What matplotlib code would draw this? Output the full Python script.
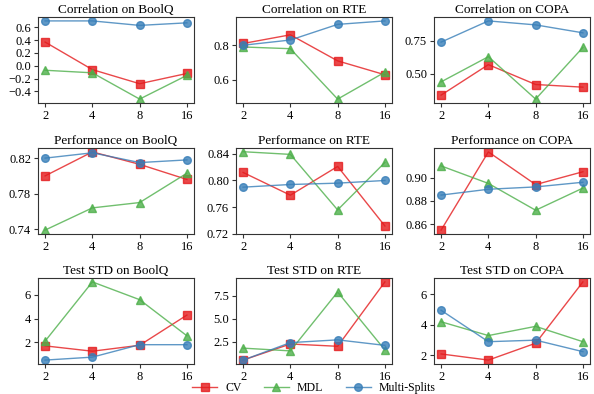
import matplotlib
matplotlib.use("Agg")
import matplotlib.pyplot as plt
import numpy as np

plt.rcParams['font.family'] = ['Liberation Serif', 'DejaVu Serif']

shots = ["2", "4", "8", "16"]
methods = ["CV", "MDL", "Multi-Splits"]
colors = ["#e41a1c", "#4daf4a", "#377eb8"]
markers = ["s", "^", "o"]

titles = [
    "Correlation on BoolQ", "Correlation on RTE", "Correlation on COPA",
    "Performance on BoolQ", "Performance on RTE", "Performance on COPA",
    "Test STD on BoolQ", "Test STD on RTE", "Test STD on COPA",
]

corr_boolq_cv = [0.37, -0.06, -0.28, -0.12]
corr_boolq_mdl = [-0.07, -0.11, -0.52, -0.15]
corr_boolq_ms = [0.70, 0.70, 0.63, 0.67]

corr_rte_cv = [0.81, 0.86, 0.71, 0.63]
corr_rte_mdl = [0.79, 0.78, 0.49, 0.645]
corr_rte_ms = [0.80, 0.83, 0.92, 0.94]

corr_copa_cv = [0.34, 0.57, 0.42, 0.40]
corr_copa_mdl = [0.44, 0.63, 0.31, 0.70]
corr_copa_ms = [0.74, 0.90, 0.87, 0.81]

perf_boolq_cv = [0.800, 0.827, 0.813, 0.796]
perf_boolq_mdl = [0.739, 0.764, 0.770, 0.803]
perf_boolq_ms = [0.820, 0.826, 0.815, 0.818]

perf_rte_cv = [0.812, 0.778, 0.821, 0.732]
perf_rte_mdl = [0.843, 0.839, 0.756, 0.827]
perf_rte_ms = [0.790, 0.794, 0.796, 0.800]

perf_copa_cv = [0.855, 0.922, 0.894, 0.905]
perf_copa_mdl = [0.910, 0.895, 0.872, 0.891]
perf_copa_ms = [0.885, 0.890, 0.892, 0.896]

std_boolq_cv = [1.7, 1.25, 1.75, 4.3]
std_boolq_mdl = [2.1, 7.1, 5.6, 2.55]
std_boolq_ms = [0.5, 0.75, 1.8, 1.8]

std_rte_cv = [0.5, 2.25, 2.0, 9.0]
std_rte_mdl = [1.8, 1.5, 7.9, 1.6]
std_rte_ms = [0.5, 2.4, 2.7, 2.1]

std_copa_cv = [2.1, 1.7, 2.8, 6.8]
std_copa_mdl = [4.2, 3.3, 3.9, 2.9]
std_copa_ms = [4.95, 2.9, 3.0, 2.25]

panels = [
    (corr_boolq_cv, corr_boolq_mdl, corr_boolq_ms),
    (corr_rte_cv, corr_rte_mdl, corr_rte_ms),
    (corr_copa_cv, corr_copa_mdl, corr_copa_ms),
    (perf_boolq_cv, perf_boolq_mdl, perf_boolq_ms),
    (perf_rte_cv, perf_rte_mdl, perf_rte_ms),
    (perf_copa_cv, perf_copa_mdl, perf_copa_ms),
    (std_boolq_cv, std_boolq_mdl, std_boolq_ms),
    (std_rte_cv, std_rte_mdl, std_rte_ms),
    (std_copa_cv, std_copa_mdl, std_copa_ms),
]

yticks = [
    [-0.4, -0.2, 0.0, 0.2, 0.4, 0.6], [0.6, 0.8], [0.50, 0.75],
    [0.74, 0.78, 0.82], [0.72, 0.76, 0.80, 0.84], [0.86, 0.88, 0.90],
    [2, 4, 6], [2.5, 5.0, 7.5], [2, 4, 6],
]
yfmt = ["%.1f", "%.1f", "%.2f", "%.2f", "%.2f", "%.2f", "%d", "%.1f", "%d"]

W, H = 594, 394
fig = plt.figure(figsize=(W / 100, H / 100), dpi=100)
lefts = [38, 236, 434]
tops = [17, 148, 278]
aw, ah = 156, 86

x = np.arange(len(shots))
handles = []
for i in range(9):
    r, c = divmod(i, 3)
    ax = fig.add_axes([lefts[c] / W, 1 - (tops[r] + ah) / H, aw / W, ah / H])
    for j, series in enumerate(panels[i]):
        h, = ax.plot(x, series, color=colors[j], marker=markers[j], markersize=5.5,
                     linewidth=1, alpha=0.8, label=methods[j])
        if i == 0:
            handles.append(h)
    ax.set_title(titles[i], fontsize=9.5, pad=3)
    ax.set_xticks(x)
    ax.set_xticklabels(shots)
    ax.set_yticks(yticks[i])
    ax.set_yticklabels([(yfmt[i] % v).replace("-", "\u2212") for v in yticks[i]])
    ax.tick_params(labelsize=9, length=3, pad=2, color="#333333")
    for s in ax.spines.values():
        s.set_color("#333333")

fig.legend(handles, methods, loc="center", ncol=3, frameon=False,
           fontsize=8.5, bbox_to_anchor=(314 / W, 1 - 388 / H), columnspacing=1.9,
           handlelength=2.1, handletextpad=0.7, borderpad=0.1)

fig.savefig("out.png", dpi=100)
